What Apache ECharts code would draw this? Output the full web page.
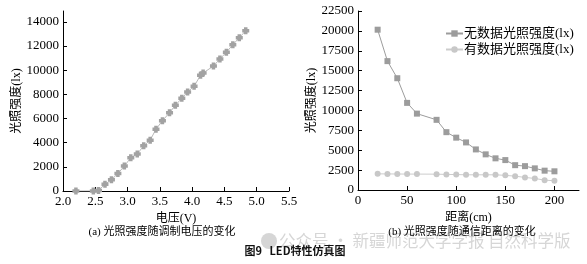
<!DOCTYPE html>
<html>
<head>
<meta charset="utf-8">
<script src="https://cdn.jsdelivr.net/npm/echarts@6/dist/echarts.min.js"></script>
<style>
  html, body { margin: 0; padding: 0; background: #fff; }
  #chart { width: 587px; height: 264px; }
</style>
</head>
<body>
<div id="chart"></div>
<script>
// (a) 光照强度随调制电压的变化
const voltage = [2.2, 2.47, 2.55, 2.65, 2.75, 2.85, 2.95, 3.05, 3.15, 3.25, 3.35, 3.44, 3.54, 3.65, 3.74, 3.84, 3.93, 4.03, 4.13, 4.17, 4.33, 4.43, 4.53, 4.63, 4.73, 4.83]
const luxByVoltage = [0, 0, 50, 560, 930, 1450, 2060, 2760, 3070, 3740, 4210, 5110, 5820, 6480, 7100, 7670, 8200, 8670, 9580, 9770, 10340, 10930, 11490, 12100, 12690, 13260]

// (b) 光照强度随通信距离的变化
const distance = [20, 30, 40, 50, 60, 80, 90, 100, 110, 120, 130, 140, 150, 160, 170, 180, 190, 200]
const luxNoData = [20150, 16200, 14050, 10950, 9600, 8820, 7270, 6580, 5980, 5100, 4480, 3980, 3760, 3120, 3000, 2720, 2430, 2350]
const luxWithData = [2030, 2020, 2010, 2000, 2000, 1990, 1960, 1940, 1910, 1910, 1910, 1910, 1840, 1740, 1580, 1450, 1240, 1160]

const seriesNames = ['无数据光照强度(lx)', '有数据光照强度(lx)']
const yName = '光照强度(lx)'

const serif = '"Liberation Serif", "Noto Sans CJK SC", serif'

const pair = (xs, ys) => xs.map((x, i) => [x, ys[i]])

// showMax: 轴端点不在刻度上时隐藏端点标签
function axisBase(showMax, fmt) {
  return {
    axisLine: { lineStyle: { color: '#000', width: 1 } },
    axisTick: { inside: true, length: 4, lineStyle: { color: '#000' } },
    axisLabel: { color: '#000', fontFamily: serif, fontSize: 13, margin: 4, showMaxLabel: showMax, formatter: fmt || (v => String(v)) },
    splitLine: { show: false },
    nameTextStyle: { color: '#000', fontFamily: serif, fontSize: 12 }
  }
}

const myChart = echarts.init(document.getElementById('chart'))
myChart.setOption({
  animation: false,
  grid: [
    { left: 63, right: 298, top: 11, bottom: 73 },
    { left: 358, right: 8, top: 11, bottom: 74 }
  ],
  legend: {
    data: seriesNames,
    orient: 'vertical',
    left: 440,
    top: 22,
    itemWidth: 17,
    itemHeight: 8,
    itemGap: 3,
    textStyle: { color: '#000', fontFamily: serif, fontSize: 13, padding: [0, 0, 0, -4] }
  },
  xAxis: [
    Object.assign(axisBase(true, v => v.toFixed(1)), {
      gridIndex: 0, type: 'value', min: 2, max: 5.5, interval: 0.5,
      name: '电压(V)', nameLocation: 'middle', nameGap: 18
    }),
    Object.assign(axisBase(false), {
      gridIndex: 1, type: 'value', min: 0, max: 225, interval: 50,
      name: '距离(cm)', nameLocation: 'middle', nameGap: 18
    })
  ],
  yAxis: [
    Object.assign(axisBase(false), {
      gridIndex: 0, type: 'value', min: 0, max: 14900, interval: 2000,
      name: yName, nameLocation: 'middle', nameGap: 35
    }),
    Object.assign(axisBase(true), {
      gridIndex: 1, type: 'value', min: 0, max: 22500, interval: 2500,
      name: yName, nameLocation: 'middle', nameGap: 36
    })
  ],
  series: [
    {
      type: 'line', xAxisIndex: 0, yAxisIndex: 0,
      symbol: 'path://M2.5,0h5v2.5h2.5v5h-2.5v2.5h-5v-2.5h-2.5v-5h2.5z', symbolSize: 7,
      lineStyle: { color: '#b8b8b8', width: 1 },
      itemStyle: { color: '#a2a2a2' },
      data: pair(voltage, luxByVoltage)
    },
    {
      name: seriesNames[0], type: 'line', xAxisIndex: 1, yAxisIndex: 1,
      symbol: 'rect', symbolSize: 6,
      lineStyle: { color: '#9c9c9c', width: 1 },
      itemStyle: { color: '#9c9c9c' },
      data: pair(distance, luxNoData)
    },
    {
      name: seriesNames[1], type: 'line', xAxisIndex: 1, yAxisIndex: 1,
      symbol: 'circle', symbolSize: 6,
      lineStyle: { color: '#cccccc', width: 1 },
      itemStyle: { color: '#c8c8c8' },
      data: pair(distance, luxWithData)
    }
  ],
  graphic: [
    {
      type: 'text', left: 279, top: 232, z: 1,
      style: { text: '公众号 · 新疆师范大学学报 自然科学版', fill: '#d6d6d6', font: '16.5px "Noto Sans CJK SC"' }
    },
    {
      type: 'circle', shape: { cx: 269, cy: 241, r: 8 }, z: 1,
      style: { fill: '#d6d6d6' }
    },
    {
      type: 'text', x: 162, y: 232, z: 5,
      style: { text: '(a) 光照强度随调制电压的变化', fill: '#000', font: '11px ' + serif, align: 'center', verticalAlign: 'middle' }
    },
    {
      type: 'text', x: 462, y: 232, z: 5,
      style: { text: '(b) 光照强度随通信距离的变化', fill: '#000', font: '11px ' + serif, align: 'center', verticalAlign: 'middle' }
    },
    {
      type: 'text', x: 295, y: 251, z: 5,
      style: { text: '图9   LED特性仿真图', fill: '#111', font: 'bold 11px "Noto Sans CJK SC"', align: 'center', verticalAlign: 'middle' }
    }
  ]
})
window.addEventListener('resize', () => {
  myChart.resize()
})
</script>
</body>
</html>
